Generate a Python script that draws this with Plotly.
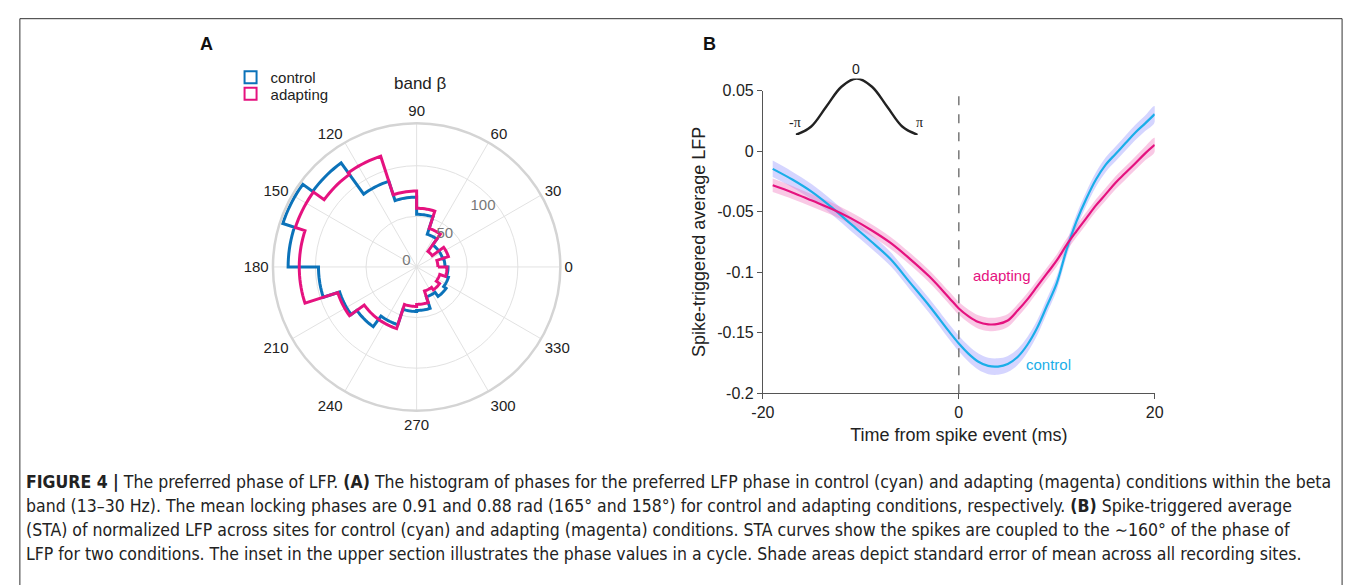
import numpy as np
import plotly.graph_objects as go

# ---------------- data ----------------
bin_width = 18  # degrees, 20 bins
bin_starts = list(range(0, 360, bin_width))
control_counts = [28, 27, 27, 34, 52, 69, 89, 127, 139, 127, 97, 80, 73, 60, 44, 43, 31, 36, 33, 31]
adapting_counts = [21, 33, 19, 40, 58, 75, 115, 113, 126, 116, 116, 82, 64, 64, 39, 37, 25, 28, 24, 30]
angle_ticks = list(range(0, 360, 30))
angle_ticktext = [str(a) for a in angle_ticks]
radial_ticks = [0, 50, 100]

time_ms = [-19, -17, -15, -13, -11, -9, -7, -5, -3, -1, 0, 1, 2, 3, 4, 5, 6, 7, 8, 9, 10,
           11, 12, 13, 14, 15, 16, 17, 18, 19, 20]
control_sta = [-0.0147, -0.0235, -0.0337, -0.0463, -0.0604, -0.0743, -0.0890, -0.1085,
               -0.1280, -0.1490, -0.1590, -0.1675, -0.1740, -0.1775, -0.1780, -0.1759,
               -0.1701, -0.1600, -0.1460, -0.1278, -0.1091, -0.0815, -0.0583, -0.0396,
               -0.0235, -0.0112, -0.0024, 0.0064, 0.0152, 0.0227, 0.0305]
adapting_sta = [-0.0283, -0.0342, -0.0409, -0.0476, -0.0556, -0.0650, -0.0757, -0.0890,
                -0.1037, -0.1211, -0.1300, -0.1365, -0.1412, -0.1431, -0.1428, -0.1400,
                -0.1318, -0.1225, -0.1118, -0.1011, -0.0904, -0.0775, -0.0663, -0.0556,
                -0.0449, -0.0356, -0.0262, -0.0182, -0.0102, -0.0021, 0.0051]
control_sem = [0.0068, 0.0065, 0.0062, 0.0060, 0.0058, 0.0058, 0.0058, 0.0058, 0.0060,
               0.0062, 0.0064, 0.0066, 0.0067, 0.0068, 0.0068, 0.0067, 0.0066, 0.0064,
               0.0062, 0.0060, 0.0058, 0.0057, 0.0057, 0.0058, 0.0059, 0.0060, 0.0061,
               0.0062, 0.0063, 0.0064, 0.0066]
adapting_sem = [0.0056, 0.0054, 0.0052, 0.0051, 0.0050, 0.0050, 0.0050, 0.0050, 0.0051,
                0.0052, 0.0053, 0.0054, 0.0055, 0.0055, 0.0055, 0.0054, 0.0053, 0.0052,
                0.0051, 0.0050, 0.0050, 0.0050, 0.0050, 0.0050, 0.0051, 0.0052, 0.0053,
                0.0054, 0.0055, 0.0056, 0.0058]
x_ticks = [-20, 0, 20]
x_ticktext = ["-20", "0", "20"]
y_ticks = [0.05, 0, -0.05, -0.1, -0.15, -0.2]
y_ticktext = ["0.05", "0", "-0.05", "-0.1", "-0.15", "-0.2"]

inset_phase = [-np.pi, -0.75 * np.pi, -0.5 * np.pi, -0.25 * np.pi, 0,
               0.25 * np.pi, 0.5 * np.pi, 0.75 * np.pi, np.pi]
inset_wave = [-1.0, -0.71, 0.0, 0.71, 1.0, 0.71, 0.0, -0.71, -1.0]

caption_lines = [
    "<b>FIGURE 4 |</b> The preferred phase of LFP. <b>(A)</b> The histogram of phases for the preferred LFP phase in control (cyan) and adapting (magenta) conditions within the beta",
    "band (13–30 Hz). The mean locking phases are 0.91 and 0.88 rad (165° and 158°) for control and adapting conditions, respectively. <b>(B)</b> Spike-triggered average",
    "(STA) of normalized LFP across sites for control (cyan) and adapting (magenta) conditions. STA curves show the spikes are coupled to the ∼160° of the phase of",
    "LFP for two conditions. The inset in the upper section illustrates the phase values in a cycle. Shade areas depict standard error of mean across all recording sites.",
]

W, H = 1357, 585
BLUE = "#0b72b9"
MAG = "#e5127f"
CYAN = "#1aaee8"
FONT = "Liberation Sans, Arial, sans-serif"
CAPFONT = "DejaVu Sans Condensed, sans-serif"


def px_x(p):
    return p / W


def px_y(p):
    return 1 - p / H


def stairs_outline(starts, counts, width):
    th, rr = [], []
    for a, c in zip(starts, counts):
        for k in range(0, width + 1, 2):
            th.append(a + k)
            rr.append(c)
    th.append(th[0])
    rr.append(rr[0])
    return th, rr


fig = go.Figure()

# ---------------- Panel A: polar histogram ----------------
for name, counts, col, lg in [("control", control_counts, BLUE, "legend"),
                              ("adapting", adapting_counts, MAG, "legend2")]:
    th, rr = stairs_outline(bin_starts, counts, bin_width)
    fig.add_trace(go.Scatterpolar(
        r=rr, theta=th, mode="lines", name=name, line=dict(color=col, width=3),
        subplot="polar", showlegend=False, hoverinfo="skip"))
    fig.add_trace(go.Barpolar(
        r=[None], theta=[None], name=name, subplot="polar", legend=lg,
        marker=dict(color="rgba(0,0,0,0)", line=dict(color=col, width=2)),
        showlegend=True, hoverinfo="skip"))

fig.update_layout(
    polar=dict(
        domain=dict(x=[px_x(263), px_x(559)], y=[px_y(414.7), px_y(118.7)]),
        bgcolor="white",
        angularaxis=dict(direction="counterclockwise", rotation=0,
                         tickmode="array", tickvals=angle_ticks, ticktext=angle_ticktext,
                         tickfont=dict(size=15, color="#222", family=FONT),
                         gridcolor="#e2e2e2", gridwidth=1, showline=True,
                         linecolor="#d4d4d4", linewidth=2.5, ticks=""),
        radialaxis=dict(range=[0, 142], tickvals=radial_ticks, angle=33, tickangle=33,
                        side="counterclockwise", showline=False, ticks="",
                        gridcolor="#e2e2e2", gridwidth=1,
                        tickfont=dict(size=15, color="#777", family=FONT)),
    ),
    legend=dict(x=px_x(222), y=px_y(71.7), xanchor="left", yanchor="middle",
                font=dict(size=15, color="#222", family=FONT), bgcolor="rgba(0,0,0,0)",
                itemwidth=30),
    legend2=dict(x=px_x(222), y=px_y(88.5), xanchor="left", yanchor="middle",
                 font=dict(size=15, color="#222", family=FONT), bgcolor="rgba(0,0,0,0)",
                 itemwidth=30),
)

# ---------------- Panel B: STA ----------------
t = time_ms
for sta, sem, band in [(control_sta, control_sem, "rgba(150,150,255,0.40)"),
                       (adapting_sta, adapting_sem, "rgba(240,120,190,0.40)")]:
    upper = [m + s for m, s in zip(sta, sem)]
    lower = [m - s for m, s in zip(sta, sem)]
    fig.add_trace(go.Scatter(x=t + t[::-1], y=upper + lower[::-1], fill="toself",
                             fillcolor=band, line=dict(width=0, shape="spline"),
                             mode="lines", showlegend=False, hoverinfo="skip",
                             xaxis="x", yaxis="y"))
for sta, col in [(control_sta, CYAN), (adapting_sta, MAG)]:
    fig.add_trace(go.Scatter(x=t, y=sta, mode="lines", line=dict(color=col, width=2.2, shape="spline"),
                             showlegend=False, hoverinfo="skip", xaxis="x", yaxis="y"))

fig.update_layout(
    xaxis=dict(domain=[px_x(762.7), px_x(1160.7)], range=[-20, 20], tickvals=x_ticks,
               ticktext=x_ticktext, showgrid=False, zeroline=False, showline=True,
               linecolor="#555", linewidth=1, ticks="outside", ticklen=5, tickcolor="#555",
               tickfont=dict(size=16, color="#222", family=FONT), anchor="y",
               title=dict(text="Time from spike event (ms)", standoff=8,
                          font=dict(size=18, color="#222", family=FONT))),
    yaxis=dict(domain=[px_y(396.7), px_y(85)], range=[-0.2, 0.05], tickvals=y_ticks,
               ticktext=y_ticktext, showgrid=False, zeroline=False, showline=True,
               linecolor="#555", linewidth=1, ticks="outside", ticklen=5, tickcolor="#555",
               tickfont=dict(size=16, color="#222", family=FONT), anchor="x",
               title=dict(text="Spike-triggered average LFP", standoff=6,
                          font=dict(size=18, color="#222", family=FONT))),
)

fig.add_trace(go.Scatter(x=inset_phase, y=inset_wave, mode="lines",
                         line=dict(color="#222", width=2.4, shape="spline", smoothing=1.0),
                         showlegend=False, hoverinfo="skip", xaxis="x3", yaxis="y3"))
fig.update_layout(
    xaxis3=dict(domain=[px_x(796), px_x(920)], range=[-np.pi, np.pi], visible=False, anchor="y3"),
    yaxis3=dict(domain=[px_y(130.7), px_y(72.7)], range=[-1, 1], visible=False, anchor="x3"),
)

fig.add_shape(type="line", xref="x", yref="y", x0=0, x1=0, y0=-0.2, y1=0.05,
              line=dict(color="#777", width=1.5, dash="dash"))

annotations = [
    dict(text="<b>A</b>", x=px_x(198), y=px_y(37), font=dict(size=18, color="#111", family=FONT)),
    dict(text="<b>B</b>", x=px_x(708), y=px_y(37), font=dict(size=18, color="#111", family=FONT)),
    dict(text="band β", x=px_x(415), y=px_y(78), font=dict(size=17, color="#222", family=FONT)),
    dict(text="adapting", x=px_x(1006), y=px_y(276), font=dict(size=15, color=MAG, family=FONT)),
    dict(text="control", x=px_x(1053), y=px_y(367), font=dict(size=15, color=CYAN, family=FONT)),
    dict(text="0", x=px_x(857.7), y=px_y(62.5), font=dict(size=14, color="#222", family=FONT)),
    dict(text="-π", x=px_x(795), y=px_y(118), font=dict(size=14, color="#222", family="Liberation Serif, serif")),
    dict(text="π", x=px_x(922), y=px_y(118), font=dict(size=14, color="#222", family="Liberation Serif, serif")),
]
for a in annotations:
    a.update(xref="paper", yref="paper", showarrow=False, xanchor="center", yanchor="middle")

cap_y = [488, 512.7, 537.3, 562]
for line, yy in zip(caption_lines, cap_y):
    annotations.append(dict(text=line, x=px_x(12), y=px_y(yy), xref="paper", yref="paper",
                            showarrow=False, xanchor="left", yanchor="middle",
                            font=dict(size=17.5, color="#222", family=CAPFONT)))
fig.update_layout(annotations=annotations)

fig.add_shape(type="rect", xref="paper", yref="paper", x0=px_x(8), x1=px_x(1351),
              y0=-0.05, y1=px_y(11), line=dict(color="#333", width=1), fillcolor="rgba(0,0,0,0)")

fig.update_layout(width=W, height=H, margin=dict(l=0, r=0, t=0, b=0),
                  paper_bgcolor="white", plot_bgcolor="rgba(0,0,0,0)", showlegend=True)

post = ("document.body.style.margin='0';document.body.style.padding='0';"
        "document.documentElement.style.overflow='hidden';")
fig.write_html("out.html", config={"displayModeBar": False}, post_script=post)
